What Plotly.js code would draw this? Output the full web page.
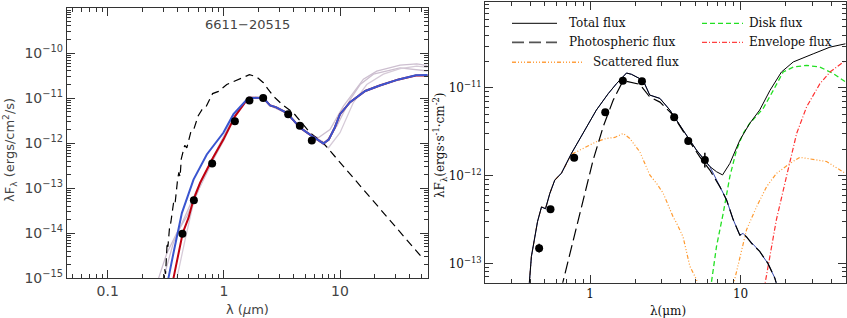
<!DOCTYPE html>
<html><head><meta charset="utf-8">
<script src="https://cdn.plot.ly/plotly-3.0.1.min.js"></script>
<style>html,body{margin:0;padding:0;background:#fff}#c{width:847px;height:318px}</style>
</head><body><div id="c"></div>
<script>
// ---------- LEFT PANEL DATA (6611-20515) ----------
const objName = '6611\u221220515';
const leftPtsX = [0.44,0.552,0.793,1.244,1.66,2.18,3.58,4.51,5.72];
const leftPtsY = [9.8e-15,5.4e-14,3.54e-13,3.08e-12,8.9e-12,1.0e-11,4.4e-12,2.44e-12,1.15e-12];

const photoLX = [0.30,0.305,0.31,0.315,0.32,0.325,0.33,0.34,0.35,0.36,0.37,0.38,0.39,0.40,0.41,0.42,0.43,0.44,0.46,0.48,0.5,0.52,0.55,0.6,0.65,0.7,0.8,0.9,1.06,1.3,1.66,1.9,2.19,2.4,2.67,3.2,3.97,5.53,7.2,52];
const photoLY = [4.0e-16,7.9e-16,1.58e-15,1.26e-15,3.5e-15,6.3e-15,5.0e-15,1.26e-14,1.78e-14,2.8e-14,5.0e-14,4.5e-14,1.0e-13,1.58e-13,2.24e-13,1.78e-13,4.5e-13,5.6e-13,8.9e-13,7.9e-13,1.26e-12,1.78e-12,2.0e-12,4.0e-12,5.6e-12,6.3e-12,1.26e-11,1.41e-11,2.0e-11,2.5e-11,3.3e-11,3.0e-11,2.2e-11,1.58e-11,1.1e-11,7.1e-12,4.7e-12,1.7e-12,1.0e-12,2.7e-15];

const redX = [0.355,0.368,0.443,0.496,0.548,0.625,0.793,0.99,1.25,1.63,1.75,2.19,2.5,2.8,3.48,4.54,5.72,7.2,8.0,9.0,10.0,12.2,16.5,22,32,45,57];
const redY = [5.0e-16,1.0e-15,1.02e-14,2.19e-14,5.6e-14,1.32e-13,4.4e-13,1.2e-12,3.98e-12,1.02e-11,1.02e-11,1.0e-11,6.9e-12,6.3e-12,4.7e-12,2.19e-12,1.45e-12,9.8e-13,1.2e-12,2.2e-12,4.4e-12,8.1e-12,1.44e-11,1.9e-11,2.6e-11,3.16e-11,3.16e-11];

const blueX = [0.32,0.333,0.368,0.435,0.548,0.713,0.99,1.21,1.63,1.75,2.19,2.5,2.8,3.48,4.54,5.72,7.2,8.0,9.0,10.0,12.2,16.5,22,32,45,57];
const blueY = [5.0e-16,1.0e-15,3.6e-15,2.8e-14,1.55e-13,5.6e-13,1.7e-12,4.4e-12,1.02e-11,1.02e-11,1.0e-11,6.9e-12,6.3e-12,4.7e-12,2.19e-12,1.45e-12,9.8e-13,1.2e-12,2.2e-12,4.4e-12,8.1e-12,1.44e-11,1.9e-11,2.6e-11,3.2e-11,3.25e-11];

const grey1X = [0.26,0.274,0.323,0.394,0.481,0.625,0.99,1.25,1.63,2.19,2.5,3.48,4.54,5.72,6.5,8.2,10.7,13.0,15.9,20.7,32.9,45.8,56.9];
const grey1Y = [5e-16,1e-15,3.6e-15,1.02e-14,2.4e-14,1.1e-13,1.2e-12,3.98e-12,1.02e-11,1e-11,6.9e-12,4.7e-12,2.19e-12,1.45e-12,1.32e-12,2.0e-12,6.6e-12,1.32e-11,2.63e-11,3.98e-11,5.4e-11,5.75e-11,5.25e-11];
const grey2X = [0.29,0.302,0.368,0.449,0.586,0.814,1.21,1.63,2.19,2.5,3.48,4.54,5.72,7.45,9.4,12.2,14.9,19.4,32.9,56.9];
const grey2Y = [5e-16,1e-15,6.2e-15,2.0e-14,9.3e-14,5.1e-13,3.8e-12,1.02e-11,1e-11,6.9e-12,4.7e-12,2.19e-12,1.45e-12,1.02e-12,2.4e-12,9.3e-12,2.0e-11,3.4e-11,4.7e-11,4.0e-11];
const grey3X = [0.38,0.394,0.464,0.55,0.7,1.0,1.25,1.63,2.19,2.5,3.48,4.54,5.72,7.95,10,13,17,23.6,32.9,45.8,56.9];
const grey3Y = [5e-16,1e-15,7.2e-15,5.0e-14,2.2e-13,1.15e-12,3.9e-12,1.0e-11,9.8e-12,6.8e-12,4.6e-12,2.15e-12,1.4e-12,7.9e-13,1.7e-12,7.9e-12,2.0e-11,3.4e-11,4.5e-11,5.1e-11,4.8e-11];

// ---------- RIGHT PANEL DATA ----------
const rPtsX = [0.458,0.545,0.783,1.26,1.65,2.21,3.62,4.49,5.79];
const rPtsY = [1.49e-13,4.15e-13,1.6e-12,5.3e-12,1.21e-11,1.19e-11,4.65e-12,2.48e-12,1.51e-12];
const rErrUp = [1.8e-14,0,0,0,0,0,2e-13,1e-13,3.2e-13];
const rErrDn = [1.6e-14,0,0,0,0,0,2e-13,1e-13,2.7e-13];

const totalX = [0.391,0.407,0.447,0.475,0.505,0.54,0.582,0.645,0.752,0.899,1.10,1.318,1.497,1.745,1.884,2.25,2.49,2.91,3.39,4.15,5.09,6.25,6.92,7.59,8.49,9.89,11.5,13.4,15.7,18.7,22.4,30.4,39.3,49.9];
const totalY = [5.0e-14,1.2e-13,3.0e-13,4.4e-13,4.2e-13,6.3e-13,8.9e-13,1.07e-12,1.8e-12,3.03e-12,5.6e-12,8.6e-12,1.12e-11,1.48e-11,1.43e-11,1.22e-11,8.3e-12,7.6e-12,5.6e-12,3.3e-12,1.96e-12,1.27e-12,1.11e-12,1.02e-12,1.38e-12,2.54e-12,3.94e-12,5.6e-12,9.4e-12,1.52e-11,1.98e-11,2.45e-11,2.92e-11,3.19e-11];

const starX = [0.391,0.407,0.447,0.475,0.505,0.54,0.582,0.645,0.752,0.899,1.10,1.318,1.497,1.745,1.884,2.25,2.49,2.91,3.39,4.15,5.09,6.25,7.28,8.07,8.93,9.89,10.4,10.96,11.8,13.4,14.1,15.2,16.9,17.5];
const starY = [5.0e-14,1.2e-13,3.0e-13,4.4e-13,4.2e-13,6.3e-13,8.9e-13,1.07e-12,1.8e-12,3.03e-12,5.6e-12,8.6e-12,1.12e-11,1.48e-11,1.43e-11,1.22e-11,8.3e-12,7.6e-12,5.6e-12,3.3e-12,1.96e-12,1.27e-12,7.5e-13,5.3e-13,3.16e-13,2.1e-13,2.2e-13,2.0e-13,1.7e-13,1.37e-13,1.2e-13,1.0e-13,6.8e-14,5.5e-14];

const photoRX = [0.64,0.771,0.90,1.047,1.22,1.42,1.617,1.745,2.14,2.49,2.91,3.56,4.37,5.36,6.25,7.28,8.07,8.93,9.89,10.4,10.96,11.8,13.4,14.1,15.2,16.9,17.5];
const photoRY = [5.0e-14,1.86e-13,5.3e-13,1.51e-12,3.6e-12,7.2e-12,1.12e-11,1.19e-11,1.10e-11,7.9e-12,6.9e-12,4.9e-12,2.78e-12,1.64e-12,1.16e-12,7.5e-13,5.3e-13,3.16e-13,2.1e-13,2.2e-13,2.0e-13,1.7e-13,1.37e-13,1.2e-13,1.0e-13,6.8e-14,5.5e-14];

const scatX = [0.391,0.407,0.447,0.475,0.505,0.54,0.582,0.645,0.752,0.812,0.946,1.10,1.284,1.459,1.658,1.835,2.14,2.49,2.76,3.06,3.56,3.75,4.15,4.6,5.1,5.3,null,8.8,9.89,10.96,12.8,14.9,17.3,21.3,24.8,30.4,37.3,49.9];
const scatY = [5.0e-14,1.2e-13,3.0e-13,4.4e-13,4.2e-13,6.3e-13,8.9e-13,1.07e-12,1.75e-12,1.87e-12,2.14e-12,2.44e-12,2.66e-12,2.73e-12,3.03e-12,2.66e-12,1.87e-12,1.02e-12,8.2e-13,6.3e-13,3.4e-13,2.9e-13,2.0e-13,9.3e-14,6.5e-14,5.0e-14,null,5.0e-14,1.2e-13,2.42e-13,4.45e-13,7.5e-13,1.06e-12,1.38e-12,1.62e-12,1.53e-12,1.45e-12,1.06e-12];

const diskX = [6.3,6.92,7.66,8.49,9.4,10.4,11.5,14.1,16.5,19.2,22.4,27.5,33.7,41.3,49.9];
const diskY = [5e-14,1.56e-13,3.7e-13,9.8e-13,1.96e-12,3.03e-12,3.94e-12,5.8e-12,9.4e-12,1.52e-11,1.73e-11,1.81e-11,1.73e-11,1.46e-11,1.17e-11];

const envX = [14.3,15.7,17.3,20.2,23.6,27.5,33.7,39.3,49.9];
const envY = [5e-14,1.2e-13,3.14e-13,9.8e-13,3.03e-12,6.1e-12,1.12e-11,1.52e-11,2.06e-11];

const legendNames = ['Total flux','Photospheric flux','Scattered flux','Disk flux','Envelope flux'];
const leftYTicks = [1e-15,1e-14,1e-13,1e-12,1e-11,1e-10];
const leftYText = ['10<sup>\u221215</sup>','10<sup>\u221214</sup>','10<sup>\u221213</sup>','10<sup>\u221212</sup>','10<sup>\u221211</sup>','10<sup>\u221210</sup>'];
const rightYTicks = [1e-13,1e-12,1e-11];
const rightYText = ['10<sup>\u221213</sup>','10<sup>\u221212</sup>','10<sup>\u221211</sup>'];
const xTicksL = [0.1,1,10], xTextL = ['0.1','1','10'];
const xTicksR = [1,10], xTextR = ['1','10'];

// minor tick helper (positions only)
function minors(e0,e1){const a=[];for(let e=e0;e<=e1;e++)for(let m=2;m<=9;m++)a.push(m*Math.pow(10,e));return a;}

const W=847,H=318;
const px = x=>x/W, py = y=>1-y/H;

const sansL = {family:'DejaVu Sans, sans-serif', size:13, color:'#444'};
const sansTick = {family:'DejaVu Sans, sans-serif', size:14, color:'#444'};
const serifR = {family:'DejaVu Serif, serif', size:12, color:'#111'};

const traces = [
 {x:grey1X,y:grey1Y,mode:'lines',line:{color:'#cdbfd0',width:1.3},xaxis:'x',yaxis:'y'},
 {x:grey2X,y:grey2Y,mode:'lines',line:{color:'#cdbfd0',width:1.3},xaxis:'x',yaxis:'y'},
 {x:grey3X,y:grey3Y,mode:'lines',line:{color:'#d6cbd8',width:1.3},xaxis:'x',yaxis:'y'},
 {x:photoLX,y:photoLY,mode:'lines',line:{color:'#000',width:1.2,dash:'8px,5px'},xaxis:'x',yaxis:'y'},
 {x:redX,y:redY,mode:'lines',line:{color:'#c00010',width:2},xaxis:'x',yaxis:'y'},
 {x:blueX,y:blueY,mode:'lines',line:{color:'#3a55d0',width:2},xaxis:'x',yaxis:'y'},
 {x:leftPtsX,y:leftPtsY,mode:'markers',marker:{color:'#000',size:8},xaxis:'x',yaxis:'y'},

 {x:scatX,y:scatY,mode:'lines',connectgaps:false,line:{color:'#ff9a30',width:1.2,dash:'4px,2px,1px,2px,1px,2px,1px,2px'},xaxis:'x2',yaxis:'y2'},
 {x:diskX,y:diskY,mode:'lines',line:{color:'#22e022',width:1.3,dash:'5px,3px'},xaxis:'x2',yaxis:'y2'},
 {x:envX,y:envY,mode:'lines',line:{color:'#ff3030',width:1.2,dash:'5px,2px,1px,2px'},xaxis:'x2',yaxis:'y2'},
 {x:starX,y:starY,mode:'lines',line:{color:'#3344aa',width:1},xaxis:'x2',yaxis:'y2'},
 {x:photoRX,y:photoRY,mode:'lines',line:{color:'#000',width:1.2,dash:'12px,5px'},xaxis:'x2',yaxis:'y2'},
 {x:totalX,y:totalY,mode:'lines',line:{color:'#000',width:1},xaxis:'x2',yaxis:'y2'},
 {x:rPtsX,y:rPtsY,mode:'markers',marker:{color:'#000',size:8},
  error_y:{type:'data',symmetric:false,array:rErrUp,arrayminus:rErrDn,thickness:1.5,width:0,color:'#000'},xaxis:'x2',yaxis:'y2'}
];

const axBase = {type:'log',showline:true,linecolor:'#333',linewidth:1,mirror:'allticks',ticks:'inside',ticklen:8,tickcolor:'#333',showgrid:false,zeroline:false,tickmode:'array'};

function ann(text,x,y,font,extra){return Object.assign({text:text,x:px(x),y:py(y),xref:'paper',yref:'paper',showarrow:false,xanchor:'center',yanchor:'middle',font:font},extra||{});}

const layout = {
 width:W,height:H,margin:{l:0,r:0,t:0,b:0},showlegend:false,
 paper_bgcolor:'#fff',plot_bgcolor:'#fff',
 xaxis:Object.assign({},axBase,{domain:[px(66.7),px(427.7)],range:[-1.353,1.755],anchor:'y',tickvals:xTicksL,ticktext:xTextL,tickfont:sansTick,
   minor:{ticks:'inside',ticklen:4,tickcolor:'#333',tickvals:minors(-2,1)}}),
 yaxis:Object.assign({},axBase,{domain:[py(278.3),py(8)],range:[-15,-9],anchor:'x',tickvals:leftYTicks,ticktext:leftYText,tickfont:sansTick,
   minor:{ticks:'inside',ticklen:4,tickcolor:'#333',tickvals:minors(-16,-10)}}),
 xaxis2:Object.assign({},axBase,{domain:[px(485),px(845.7)],range:[Math.log10(0.2),Math.log10(50)],anchor:'y2',tickvals:xTicksR,ticktext:xTextR,tickfont:serifR,
   minor:{ticks:'inside',ticklen:4,tickcolor:'#333',tickvals:minors(-1,1)}}),
 yaxis2:Object.assign({},axBase,{domain:[py(282.7),py(2)],range:[-13.22,-10.02],anchor:'x2',tickvals:rightYTicks,ticktext:rightYText,tickfont:serifR,
   minor:{ticks:'inside',ticklen:4,tickcolor:'#333',tickvals:minors(-14,-11)}}),
 annotations:[
  ann(objName,247,25,{family:'DejaVu Sans, sans-serif',size:13,color:'#444'}),
  ann('\u03bbF<sub>\u03bb</sub> (ergs/cm<sup>2</sup>/s)',10,150,sansL,{textangle:-90}),
  ann('\u03bb (<i>\u03bc</i>m)',247,309,sansL),
  ann('\u03bbF<sub>\u03bb</sub>(ergs\u00b7s<sup>-1</sup>\u00b7cm<sup>-2</sup>)',440,145,serifR,{textangle:-90}),
  ann('\u03bb(\u03bcm)',668,311,serifR),
  ann(legendNames[0],567,23.3,serifR,{xanchor:'left'}),
  ann(legendNames[1],567,42.3,serifR,{xanchor:'left'}),
  ann(legendNames[2],590.5,62.3,serifR,{xanchor:'left'}),
  ann(legendNames[3],746.5,23.3,serifR,{xanchor:'left'}),
  ann(legendNames[4],746.5,42.3,serifR,{xanchor:'left'})
 ],
 shapes:[
  {type:'line',xref:'paper',yref:'paper',x0:px(512),x1:px(557),y0:py(23.3),y1:py(23.3),line:{color:'#000',width:1}},
  {type:'line',xref:'paper',yref:'paper',x0:px(512),x1:px(557),y0:py(42.3),y1:py(42.3),line:{color:'#555',width:1.8,dash:'12px,5px'}},
  {type:'line',xref:'paper',yref:'paper',x0:px(512),x1:px(584),y0:py(62.3),y1:py(62.3),line:{color:'#ffa040',width:1.5,dash:'4px,2px,1px,2px,1px,2px,1px,2px'}},
  {type:'line',xref:'paper',yref:'paper',x0:px(702),x1:px(743),y0:py(23.3),y1:py(23.3),line:{color:'#22e022',width:1.3,dash:'5px,3px'}},
  {type:'line',xref:'paper',yref:'paper',x0:px(702),x1:px(743),y0:py(42.3),y1:py(42.3),line:{color:'#ff4040',width:1.3,dash:'5px,2px,1px,2px'}}
 ]
};
Plotly.newPlot('c',traces,layout,{staticPlot:true,displayModeBar:false});
</script></body></html>
